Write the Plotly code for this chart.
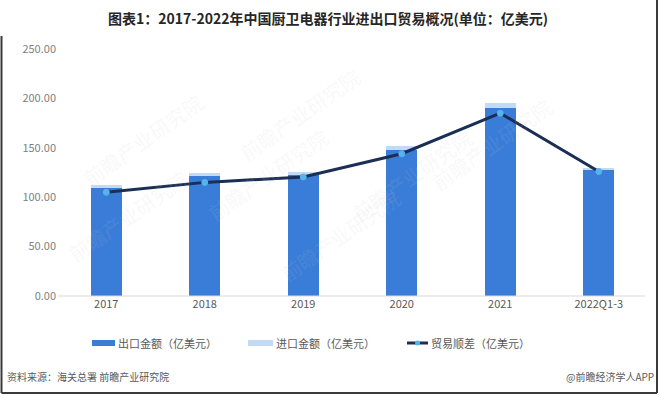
import plotly.graph_objects as go

years = ["2017", "2018", "2019", "2020", "2021", "2022Q1-3"]
export_vals = [109.0, 121.0, 122.5, 148.0, 190.5, 127.5]
import_vals = [3.0, 4.0, 3.0, 3.5, 5.0, 2.5]
balance_vals = [105.0, 115.0, 120.5, 144.0, 185.0, 126.0]
y_ticks = [0, 50, 100, 150, 200, 250]
y_tick_text = ["0.00", "50.00", "100.00", "150.00", "200.00", "250.00"]

DARK = "#3A7DD8"
LIGHT = "#C2DAF2"
NAVY = "#1B2E55"
MARK = "#55B4EC"
FONT = "Noto Sans CJK SC"

W, H = 660, 396
L, R, T, B = 57, 12, 49, 100
pw, ph = W - L - R, H - T - B


def px(x):
    return (x - L) / pw


def py(y):
    return (H - B - y) / ph


fig = go.Figure()
fig.add_trace(go.Bar(x=years, y=export_vals, marker=dict(color=DARK, line=dict(width=0)),
                     name="出口金额（亿美元）", showlegend=False))
fig.add_trace(go.Bar(x=years, y=import_vals, marker=dict(color=LIGHT, line=dict(width=0)),
                     name="进口金额（亿美元）", showlegend=False))
fig.add_trace(go.Scatter(x=years, y=balance_vals, mode="lines+markers",
                         line=dict(color=NAVY, width=3),
                         marker=dict(symbol="circle", size=6, color=MARK,
                                     line=dict(color=MARK, width=1)),
                         name="贸易顺差（亿美元）", showlegend=False))

shapes = []
annotations = []

# frame
shapes.append(dict(type="line", xref="paper", yref="paper", x0=px(1.5), x1=px(1.5), y0=py(36), y1=py(393),
                   line=dict(color="#3a3a3a", width=2)))
shapes.append(dict(type="line", xref="paper", yref="paper", x0=px(657), x1=px(657), y0=py(0), y1=py(393),
                   line=dict(color="#3a3a3a", width=2)))
shapes.append(dict(type="line", xref="paper", yref="paper", x0=px(1.5), x1=px(657), y0=py(393), y1=py(393),
                   line=dict(color="#3a3a3a", width=2)))
# baseline
shapes.append(dict(type="line", xref="paper", yref="paper", x0=px(58), x1=px(645), y0=0, y1=0,
                   line=dict(color="#d9d9d9", width=1)))

# legend
legend_y = py(343)
shapes.append(dict(type="rect", xref="paper", yref="paper", x0=px(92), x1=px(115), y0=py(346), y1=py(340),
                   fillcolor=DARK, line=dict(width=0)))
shapes.append(dict(type="rect", xref="paper", yref="paper", x0=px(248), x1=px(273), y0=py(346), y1=py(340),
                   fillcolor=LIGHT, line=dict(width=0)))
shapes.append(dict(type="line", xref="paper", yref="paper", x0=px(407), x1=px(428), y0=legend_y, y1=legend_y,
                   line=dict(color=NAVY, width=3)))
shapes.append(dict(type="circle", xref="paper", yref="paper", x0=px(415), x1=px(420), y0=py(345.5), y1=py(340.5),
                   fillcolor=MARK, line=dict(width=0)))
for xpos, txt in [(116, "出口金额（亿美元）"), (274, "进口金额（亿美元）"), (429, "贸易顺差（亿美元）")]:
    annotations.append(dict(xref="paper", yref="paper", x=px(xpos), y=legend_y, text=txt, showarrow=False,
                            xanchor="left", yanchor="middle",
                            font=dict(family=FONT, size=11, color="#595959")))

# title
annotations.append(dict(xref="paper", yref="paper", x=px(328), y=py(18),
                        text="<b>图表1：2017-2022年中国厨卫电器行业进出口贸易概况(单位：亿美元)</b>",
                        showarrow=False, xanchor="center", yanchor="middle",
                        font=dict(family=FONT, size=14, color="#262626")))
# footer
annotations.append(dict(xref="paper", yref="paper", x=px(5), y=py(376),
                        text="资料来源：海关总署 前瞻产业研究院", showarrow=False,
                        xanchor="left", yanchor="middle",
                        font=dict(family=FONT, size=10, color="#595959")))
annotations.append(dict(xref="paper", yref="paper", x=px(656), y=py(376),
                        text="@前瞻经济学人APP", showarrow=False,
                        xanchor="right", yanchor="middle",
                        font=dict(family=FONT, size=10, color="#595959")))

# faint watermarks
for (wx, wy) in [(60, 270), (75, 85), (200, 120), (300, 60), (480, 230), (560, 90), (340, 290)]:
    annotations.append(dict(xref="paper", yref="paper", x=px(wx), y=py(wy), text="前瞻产业研究院",
                            showarrow=False, textangle=-35,
                            font=dict(family=FONT, size=20, color="rgba(200,200,200,0.12)")))

fig.update_layout(
    width=W, height=H,
    margin=dict(l=L, r=R, t=T, b=B),
    paper_bgcolor="white", plot_bgcolor="white",
    barmode="stack", bargap=0.685,
    showlegend=False,
    shapes=shapes, annotations=annotations,
    font=dict(family=FONT),
)
fig.update_xaxes(showgrid=False, showline=False, zeroline=False, ticks="",
                 tickfont=dict(family=FONT, size=11, color="#595959"))
fig.update_yaxes(range=[0, 250], tickvals=y_ticks, ticktext=y_tick_text,
                 showgrid=False, showline=False, zeroline=False, ticks="",
                 tickfont=dict(family=FONT, size=11, color="#7f7f7f"))

fig.write_html("out.html")
